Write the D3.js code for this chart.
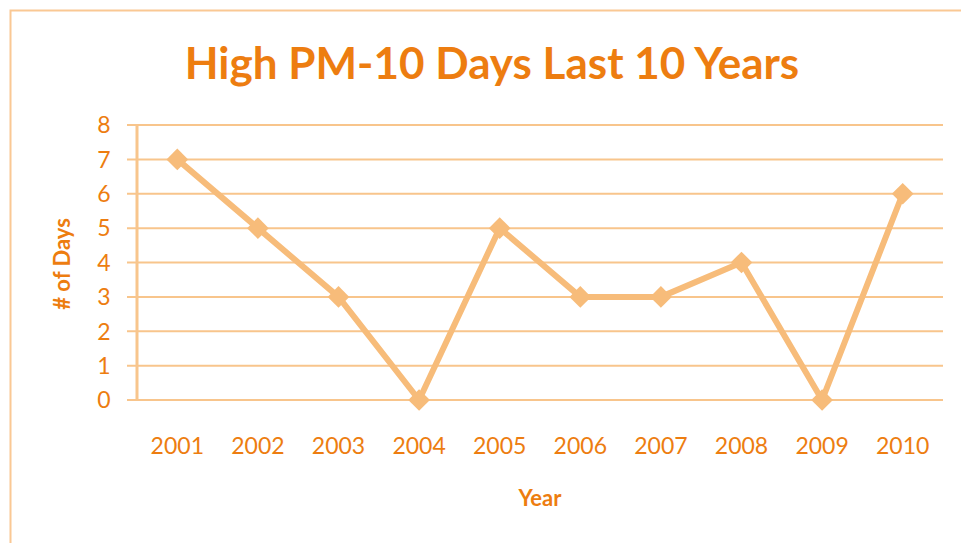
<!DOCTYPE html>
<html>
<head>
<meta charset="utf-8">
<script src="https://cdnjs.cloudflare.com/ajax/libs/d3/7.8.5/d3.min.js"></script>
<style>
  body { margin: 0; background: #fff; }
  svg { display: block; font-family: Lato, "Open Sans", sans-serif; }
</style>
</head>
<body>
<svg></svg>
<script>
let years = ["2001", "2002", "2003", "2004", "2005", "2006", "2007", "2008", "2009", "2010"];
let days = [7, 5, 3, 0, 5, 3, 3, 4, 0, 6];
let yTicks = [0, 1, 2, 3, 4, 5, 6, 7, 8];

let svgWidth = 961, svgHeight = 543;
let svg = d3.select('svg').attr('width', svgWidth).attr('height', svgHeight);

let textColor = '#ED7D10', lineColor = '#F7BC7A', gridColor = '#F8C58C';

// chart frame
svg.append('rect')
    .attr('x', 10.5).attr('y', 10.5)
    .attr('width', svgWidth).attr('height', svgHeight)
    .attr('fill', 'none').attr('stroke', '#FAC894').attr('stroke-width', 2);

let plotLeft = 137, plotRight = 943, plotTop = 125, plotBottom = 400;

let x = d3.scaleBand().domain(years).range([plotLeft, plotRight]);
let y = d3.scaleLinear().domain([0, 8]).range([plotBottom, plotTop]);

// gridlines
svg.append('g').selectAll('line').data(yTicks).enter().append('line')
    .attr('x1', plotLeft - 10).attr('x2', plotRight)
    .attr('y1', d => y(d)).attr('y2', d => y(d))
    .attr('stroke', gridColor).attr('stroke-width', 2);

// y axis line
svg.append('line')
    .attr('x1', plotLeft).attr('x2', plotLeft)
    .attr('y1', plotTop).attr('y2', plotBottom)
    .attr('stroke', gridColor).attr('stroke-width', 3);

// y tick labels
svg.append('g').selectAll('text').data(yTicks).enter().append('text')
    .attr('x', 104).attr('y', d => y(d))
    .attr('dy', '0.36em')
    .attr('text-anchor', 'middle')
    .attr('fill', textColor)
    .style('font-size', '23px')
    .text(d => d);

// x tick labels
svg.append('g').selectAll('text').data(years).enter().append('text')
    .attr('x', d => x(d) + x.bandwidth() / 2).attr('y', 454)
    .attr('text-anchor', 'middle')
    .attr('fill', textColor)
    .style('font-size', '23px')
    .text(d => d);

// line
let line = d3.line()
    .x((d, i) => x(years[i]) + x.bandwidth() / 2)
    .y(d => y(d));

svg.append('path')
    .datum(days)
    .attr('d', line)
    .attr('fill', 'none')
    .attr('stroke', lineColor)
    .attr('stroke-width', 6)
    .attr('stroke-linejoin', 'round');

// diamond markers
svg.append('g').selectAll('path').data(days).enter().append('path')
    .attr('d', d3.symbol().type(d3.symbolDiamond2).size(300))
    .attr('transform', (d, i) => 'translate(' + (x(years[i]) + x.bandwidth() / 2) + ',' + y(d) + ')')
    .attr('fill', lineColor);

// title
svg.append('text')
    .attr('x', 492).attr('y', 79)
    .attr('text-anchor', 'middle')
    .attr('fill', textColor)
    .style('font-size', '44px').style('font-weight', 'bold')
    .text('High PM-10 Days Last 10 Years');

// axis titles
svg.append('text')
    .attr('transform', 'translate(70,264) rotate(-90)')
    .attr('text-anchor', 'middle')
    .attr('fill', textColor)
    .style('font-size', '22px').style('font-weight', 'bold')
    .text('# of Days');

svg.append('text')
    .attr('x', 540).attr('y', 506)
    .attr('text-anchor', 'middle')
    .attr('fill', textColor)
    .style('font-size', '22px').style('font-weight', 'bold')
    .text('Year');
</script>
</body>
</html>
